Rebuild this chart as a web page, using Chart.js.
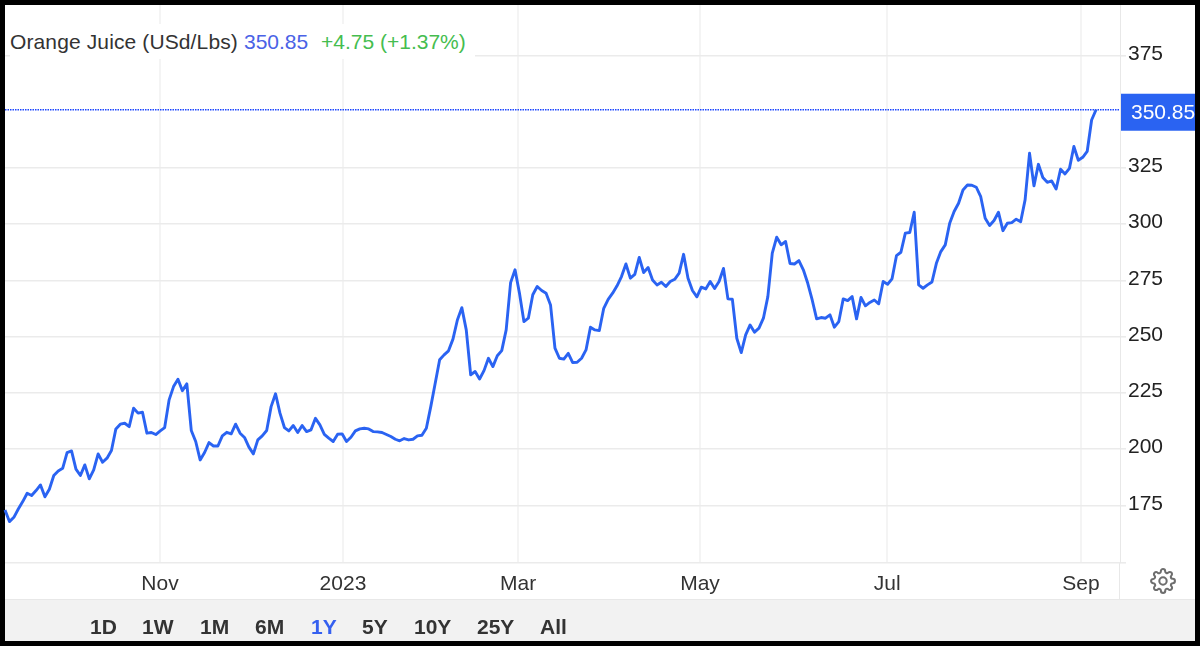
<!DOCTYPE html>
<html><head><meta charset="utf-8">
<script src="https://cdn.jsdelivr.net/npm/chart.js@4"></script>
<style>
html,body{margin:0;padding:0;background:#000;width:1200px;height:646px;overflow:hidden;font-family:"Liberation Sans",Arial,sans-serif}
#panel{position:absolute;left:5px;top:5px;width:1190px;height:636px;background:#fff}
#strip{position:absolute;left:5px;top:599px;width:1190px;height:42px;background:#f2f2f2;border-top:1px solid #e8e8e8;box-sizing:border-box}
canvas{position:absolute;left:0;top:0}
#titlebg{position:absolute;left:10px;top:24px;width:465px;height:35px;background:#fff}
.t{position:absolute;white-space:nowrap;font-size:21px;line-height:24px}
.b{position:absolute;top:615px;font-weight:bold;font-size:21px;line-height:24px;color:#333}
#vline{position:absolute;left:1119px;top:563px;width:1px;height:36px;background:#e8e8e8}
#gear{position:absolute;left:1150px;top:568px}
</style></head><body>
<div id="panel"></div><div id="strip"></div><div id="vline"></div>
<canvas id="c" width="1200" height="646"></canvas>
<div id="titlebg"></div>
<div class="t" style="left:10px;top:30px;color:#333;letter-spacing:.12px">Orange Juice (USd/Lbs)</div>
<div class="t" style="left:244px;top:30px;color:#4a62e6">350.85</div>
<div class="t" style="left:321px;top:30px;color:#45bd4f">+4.75 (+1.37%)</div>
<div id="btns"></div>
<svg id="gear" width="26" height="26" viewBox="0 0 24 24" fill="none" stroke="#6e6e6e" stroke-width="1.9"><circle cx="12" cy="12" r="3.4"/><path d="M19.4 15a1.65 1.65 0 0 0 .33 1.82l.06.06a2 2 0 0 1 0 2.83 2 2 0 0 1-2.83 0l-.06-.06a1.65 1.65 0 0 0-1.82-.33 1.65 1.65 0 0 0-1 1.51V21a2 2 0 0 1-2 2 2 2 0 0 1-2-2v-.09A1.65 1.65 0 0 0 9 19.4a1.65 1.65 0 0 0-1.82.33l-.06.06a2 2 0 0 1-2.83 0 2 2 0 0 1 0-2.83l.06-.06a1.65 1.65 0 0 0 .33-1.82 1.65 1.65 0 0 0-1.51-1H3a2 2 0 0 1-2-2 2 2 0 0 1 2-2h.09A1.65 1.65 0 0 0 4.6 9a1.65 1.65 0 0 0-.33-1.82l-.06-.06a2 2 0 0 1 0-2.83 2 2 0 0 1 2.83 0l.06.06a1.65 1.65 0 0 0 1.82.33H9a1.65 1.65 0 0 0 1-1.51V3a2 2 0 0 1 2-2 2 2 0 0 1 2 2v.09a1.65 1.65 0 0 0 1 1.51 1.65 1.65 0 0 0 1.82-.33l.06-.06a2 2 0 0 1 2.83 0 2 2 0 0 1 0 2.83l-.06.06a1.65 1.65 0 0 0-.33 1.82V9a1.65 1.65 0 0 0 1.51 1H21a2 2 0 0 1 2 2 2 2 0 0 1-2 2h-.09a1.65 1.65 0 0 0-1.51 1z"/></svg>
<script>
const prices = [
173,167.8,169.7,173.4,176.7,180.4,179.4,181.6,184.1,178.8,182.2,188.3,190.3,191.5,198.5,199.2,191.1,188.3,193,186.8,
190.8,197.9,194.2,196,199.4,209,211.1,211.5,210,218.2,216,216.4,207.1,207.4,206.5,208.1,209.6,221.9,227.8,231.1,
226,229,208.3,203.4,195.2,198.5,202.9,201.4,201.4,205.9,207.5,206.8,211.1,207.1,205.2,200.9,197.9,204.1,205.9,208.3,
218.9,224.6,216,209.6,208.1,210.5,207.4,210.5,207.8,208.6,213.7,210.8,206.6,204.9,203.4,206.6,206.8,203.4,205.3,208.1,
209,209.3,209,207.8,207.7,207.4,206.5,205.6,204.4,203.7,204.7,204.1,204.4,205.9,206.2,209.3,218.9,229.3,239.7,241.9,
243.7,248.9,257.4,262.9,253,233,234.5,231.2,234.9,240.4,236.7,241.5,243.8,253,274,279.7,269.3,256.7,258.2,268.6,
272.3,270.5,269.3,264.1,244.9,240.4,240,242.6,238.5,238.6,240.4,244.1,254.2,253,252.7,262.6,266.6,269.3,272.6,276.7,
282.3,276,277.7,285.2,278.5,280.7,275.2,273,274.2,272.3,274.5,275.5,278.2,286.6,276,270.5,267.7,272,271.2,274.5,
271.4,274.5,280.3,266.8,266.6,249.3,242.9,250.8,255.2,252,253.8,258.2,267.8,287.1,294.2,290.8,292.3,282.5,282.3,283.8,
279.7,273.7,266.3,257.9,258.5,258.2,259.7,254.2,256.7,266.8,266,267.8,257.9,267.4,263.7,265.2,266.3,264.6,274.5,273.3,
275.7,286,287.5,296,296.3,305.3,273,271.5,273,274.3,282.6,287.8,290.8,300.4,305.6,309.3,315.2,317.4,317.3,316.4,
312.2,302.6,299.4,301.6,305.3,297.1,300.4,300.7,302.2,301.1,310.8,331.5,317,326.6,320.7,318.6,319.2,315.6,324.4,322.3,
324.8,334.5,328.4,329.7,332.3,346.3,350.85];
const monthLabels = ["Nov","2023","Mar","May","Jul","Sep"];
const monthSessions = [34.95,76.2,115.7,156.7,198.9,242.6];
const priceTicks = [175,200,225,250,275,300,325,375];
const rangeLabels = ["1D","1W","1M","6M","1Y","5Y","10Y","25Y","All"];
const rangeLefts = [90,142,200,255,311,362,414,477,540];
const yMin = 149.4, yMax = 397.4, xMax = 251.4;
const LINE = "#2a63f2";

rangeLabels.forEach((t,i)=>{
  const s=document.createElement('span');s.className='b';s.textContent=t;
  s.style.left=rangeLefts[i]+'px';if(t==='1Y')s.style.color='#3560f0';
  document.getElementById('btns').appendChild(s);
});

const last = prices[prices.length-1];
const priceTag = {
  id:'priceTag',
  afterDraw(c){
    const y=c.scales.y.getPixelForValue(last), g=c.ctx;
    g.save();
    g.fillStyle=LINE;g.fillRect(1121,y-16,74,37);
    g.beginPath();g.rect(1121,y-16,74,37);g.clip();
    g.fillStyle='#fff';g.font='21px "Liberation Sans"';g.textBaseline='middle';g.textAlign='left';
    g.fillText(last.toFixed(2),1131,y+3);
    g.restore();
  }
};

new Chart(document.getElementById('c'),{
  type:'line',
  data:{datasets:[
    {data:prices.map((v,i)=>({x:i,y:v})),borderColor:LINE,borderWidth:2.9,pointRadius:0,tension:0,borderJoinStyle:'round',clip:false},
    {data:[{x:0,y:last},{x:xMax,y:last}],borderColor:"#1a45ff",borderWidth:1.3,borderDash:[1.5,1],pointRadius:0,tension:0}
  ]},
  options:{
    responsive:false,animation:false,
    layout:{padding:{left:5,top:5,right:5,bottom:48}},
    plugins:{legend:{display:false},tooltip:{enabled:false},title:{display:false}},
    scales:{
      x:{type:'linear',min:0,max:xMax,
        afterBuildTicks(s){s.ticks=monthSessions.map(v=>({value:v}));},
        afterFit(s){s.height=35;s.paddingLeft=0;s.paddingRight=0;},
        grid:{color:'#f4f4f4',lineWidth:2,drawTicks:false},
        border:{display:false},
        ticks:{autoSkip:false,maxRotation:0,padding:9,color:'#333',font:{family:'"Liberation Sans"',size:21},
          callback(v){const i=monthSessions.indexOf(v);return i>=0?monthLabels[i]:'';}}
      },
      y:{type:'linear',position:'right',min:yMin,max:yMax,
        afterBuildTicks(s){s.ticks=[yMin].concat(priceTicks).map(v=>({value:v}));},
        afterFit(s){s.width=75;s.paddingTop=0;s.paddingBottom=0;},
        grid:{color:'#ebebeb',lineWidth:1.6,tickLength:6,tickColor:'#ebebeb'},
        border:{display:true,color:'#e8e8e8',width:1},
        ticks:{autoSkip:false,padding:2,labelOffset:-1.5,align:'center',crossAlign:'near',color:'#222',font:{family:'"Liberation Sans"',size:21},
          callback(v){return priceTicks.includes(v)?String(v):'';}}
      }
    }
  },
  plugins:[priceTag]
});
</script>
</body></html>
